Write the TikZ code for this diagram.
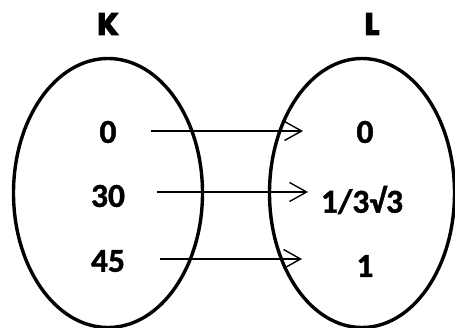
\documentclass[tikz,border=0pt]{standalone}
\usepackage{fontspec}
\setmainfont{Carlito}
\newfontfamily\valfont{Carlito}[UprightFont=*-Bold,FakeBold=1.2]
\newfontfamily\headfont{Poppins}[UprightFont=*-Bold,FakeBold=3.5]
\usetikzlibrary{arrows.meta,shapes.geometric}
\begin{document}
\begin{tikzpicture}[x=1pt,y=-1pt,
  setbox/.style={draw,ellipse,line width=3.4pt,minimum width=189pt,minimum height=269pt,inner sep=0pt},
  val/.style={font=\valfont\fontsize{33.5}{33.5}\selectfont,inner sep=0pt},
  head/.style={font=\headfont\fontsize{31}{31}\selectfont,inner sep=0pt},
  arr/.style={line width=1.4pt,-{Straight Barb[length=17pt,width=19pt,line width=1.4pt]}}]
\useasboundingbox (0,0) rectangle (455,328);
\clip (0,0) rectangle (455,328);
\fill[white] (0,0) rectangle (455,328);
\node[setbox] (K) at (108,193) {};
\node[setbox,minimum width=185pt] (L) at (362,193) {};
\node[head] (kl) at (108,24) {K};
\node[head] (ll) at (372,24) {L};
\node[val] (a0) at (108,132) {0};
\node[val] (a1) at (108,196) {30};
\node[val] (a2) at (108,261) {45};
\node[val] (b0) at (365,132) {0};
\node[val] (b1) at (362,200) {1/3\char"221A 3};
\node[val] (b2) at (365,266) {1};
\draw[arr] ([xshift=43pt,yshift=1pt]a0.center) -- ([xshift=-62pt,yshift=1pt]b0.center);
\draw[arr] ([xshift=49pt,yshift=4pt]a1.center) -- ([xshift=-54pt,yshift=8pt]b1.center);
\draw[arr] ([xshift=52pt,yshift=2pt]a2.center) -- ([xshift=-63pt,yshift=7pt]b2.center);
\end{tikzpicture}
\end{document}
